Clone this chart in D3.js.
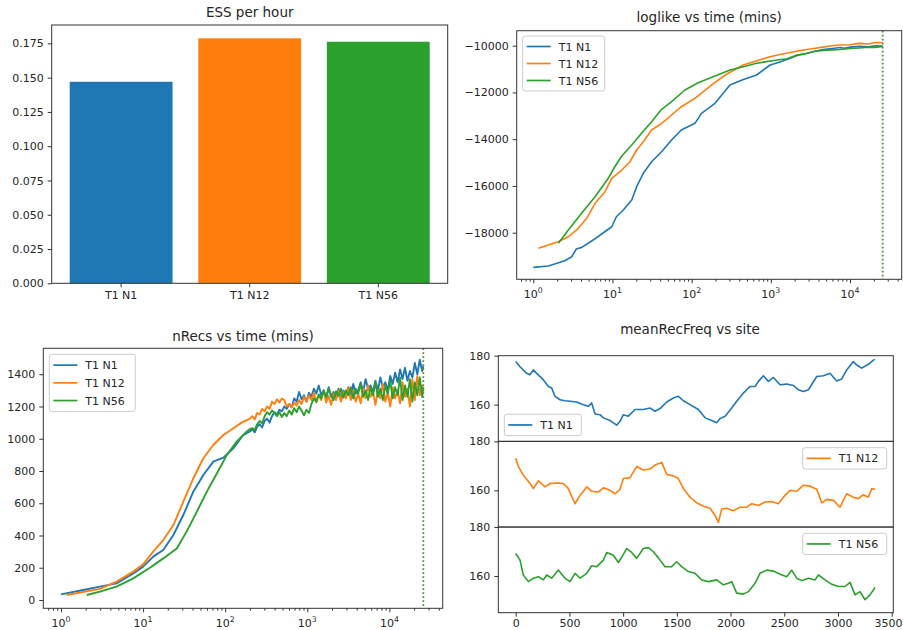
<!DOCTYPE html>
<html>
<head>
<meta charset="utf-8">
<script src="https://cdn.jsdelivr.net/npm/d3@7"></script>
<style>
body { margin: 0; background: #fff; }
text { font-family: "DejaVu Sans", sans-serif; fill: #262626; }
</style>
</head>
<body>
<div id="chart"></div>
<script>
var W = 903, H = 630;
var names = ["T1 N1", "T1 N12", "T1 N56"];
var colors = ["#1f77b4", "#ff7f0e", "#2ca02c"];

// ESS per hour
var essPerHour = [0.147, 0.1787, 0.1762];
var essTicks = [0, 0.025, 0.05, 0.075, 0.1, 0.125, 0.15, 0.175];

var endTime = 25900;

// loglike vs time
var llTimesN1 = [1, 1.55, 2.5, 3.05, 3.5, 4.1, 5.7, 7.3, 9.8, 11.2, 13.7, 17.5, 20.2, 24.5, 31.2, 41.7, 55.8, 74, 110, 133, 197, 305, 450, 660, 980, 1300, 1700, 2140, 2800, 3500, 4570, 6000, 7500, 8500, 10000, 13000, 17000, 21000, 25900];
var llN1 = [-19483, -19427, -19200, -19030, -18699, -18628, -18314, -18057, -17745, -17317, -17031, -16602, -16033, -15460, -14964, -14536, -14035, -13607, -13321, -12893, -12465, -11682, -11450, -11254, -10826, -10700, -10560, -10420, -10330, -10250, -10160, -10120, -10080, -10110, -10060, -10030, -10050, -10000, -10020];
var llTimesN12 = [1.16, 2.07, 2.77, 3.7, 4.72, 6.03, 8.04, 9.8, 13.1, 16.6, 20.2, 24.5, 31.2, 41.7, 55.8, 74, 110, 195, 282, 447, 700, 977, 1300, 1700, 2570, 3500, 4500, 6000, 7400, 10000, 13000, 17000, 21000, 25900];
var llN12 = [-18670, -18387, -18173, -17814, -17386, -16744, -16247, -15674, -15319, -14964, -14463, -14108, -13607, -13321, -12965, -12610, -12251, -11583, -11200, -10826, -10620, -10471, -10380, -10300, -10184, -10120, -10060, -10000, -9970, -9960, -9900, -9930, -9860, -9872];
var llTimesN56 = [2.07, 2.77, 4.07, 6.03, 8.85, 10.7, 13.1, 17.5, 23.3, 31.2, 41.7, 55.8, 82.2, 121, 197, 305, 450, 660, 1200, 1600, 2140, 2800, 3500, 4570, 6000, 7500, 10000, 13000, 17000, 21000, 25900];
var llN56 = [-18455, -17886, -17172, -16461, -15674, -15178, -14720, -14249, -13748, -13252, -12721, -12396, -11896, -11583, -11297, -11040, -10900, -10753, -10612, -10560, -10398, -10330, -10250, -10200, -10180, -10160, -10120, -10100, -10060, -10070, -10030];
var llTicks = [-18000, -16000, -14000, -12000, -10000];

// nRecs vs time
var nrLateTimes = [200, 214, 229, 245, 263, 282, 302, 324, 347, 372, 398, 427, 457, 490, 525, 562, 603, 646, 692, 741, 794, 851, 912, 977, 1047, 1122, 1202, 1288, 1380, 1479, 1585, 1698, 1820, 1950, 2089, 2239, 2399, 2570, 2754, 2951, 3162, 3388, 3631, 3890, 4169, 4467, 4786, 5129, 5495, 5888, 6310, 6761, 7244, 7762, 8318, 8913, 9550, 10233, 10965, 11749, 12589, 13490, 14454, 15488, 16596, 17783, 19055, 20417, 21878, 23442, 25119, 25900];
var nrTimesN1 = [1, 1.86, 2.98, 4.75, 7.6, 10, 13.3, 17.6, 23.4, 30.9, 40.9, 54.2, 71.6, 95, 126, 166];
var nrN1 = [35, 62, 83, 103, 165, 207, 269, 310, 403, 527, 672, 775, 858, 883, 941, 1023,
  1045, 1060, 1040, 1075, 1090, 1070, 1110, 1125, 1100, 1140, 1165, 1150, 1180, 1170, 1200, 1185, 1215, 1195, 1250, 1230,
  1290, 1245, 1270, 1230, 1285, 1260, 1310, 1280, 1330, 1270, 1300, 1245, 1320, 1260, 1290, 1250, 1310, 1240, 1300, 1270,
  1320, 1260, 1340, 1280, 1300, 1350, 1290, 1370, 1310, 1330, 1290, 1360, 1300, 1380, 1320, 1350, 1300, 1390, 1340, 1410,
  1350, 1430, 1370, 1440, 1360, 1420, 1380, 1470, 1400, 1490, 1420, 1450];
var nrTimesN12 = [1.17, 2.98, 4.75, 7.6, 10, 13.3, 17.6, 23.4, 30.9, 40.9, 54.2, 71.6, 95, 126, 158];
var nrN12 = [31, 69, 114, 176, 221, 300, 372, 465, 610, 755, 879, 961, 1023, 1065, 1100,
  1125, 1140, 1120, 1160, 1150, 1185, 1170, 1200, 1185, 1230, 1215, 1245, 1225, 1250, 1240, 1200, 1215, 1195, 1225, 1205,
  1240, 1215, 1260, 1230, 1270, 1240, 1285, 1225, 1270, 1240, 1300, 1225, 1265, 1210, 1280, 1240, 1300, 1230, 1290, 1250,
  1320, 1240, 1300, 1230, 1280, 1220, 1310, 1250, 1330, 1260, 1290, 1210, 1300, 1250, 1340, 1230, 1290, 1200, 1320, 1250,
  1300, 1220, 1350, 1260, 1310, 1200, 1370, 1240, 1390, 1270, 1330, 1300];
var nrTimesN56 = [2.06, 2.98, 4.75, 7.6, 12.1, 17.6, 25.7, 33.9, 45.2, 59.8, 79.4, 105, 138, 182];
var nrN56 = [31, 52, 83, 134, 200, 258, 320, 424, 548, 672, 786, 900, 982, 1044,
  1060, 1065, 1055, 1090, 1110, 1095, 1140, 1165, 1150, 1175, 1160, 1140, 1165, 1135, 1160, 1140, 1175, 1150, 1190, 1165,
  1200, 1175, 1145, 1180, 1160, 1215, 1250, 1230, 1275, 1250, 1300, 1260, 1310, 1270, 1240, 1295, 1265, 1310, 1255, 1300,
  1270, 1320, 1250, 1310, 1280, 1340, 1260, 1300, 1240, 1320, 1270, 1350, 1260, 1310, 1240, 1330, 1280, 1360, 1250, 1320,
  1270, 1380, 1240, 1330, 1260, 1370, 1230, 1350, 1270, 1380, 1260, 1320];
var nrTicks = [0, 200, 400, 600, 800, 1000, 1200, 1400];

// meanRecFreq vs site
var siteN1 = [0, 40, 102, 133, 164, 195, 258, 304, 335, 366, 413, 459, 506, 568, 630, 676, 707, 739, 785, 816, 878, 940, 971, 1002, 1049, 1111, 1188, 1251, 1297, 1344, 1406, 1468, 1514, 1561, 1623, 1700, 1763, 1825, 1871, 1902, 1949, 2011, 2057, 2119, 2181, 2228, 2259, 2306, 2352, 2399, 2461, 2523, 2585, 2631, 2678, 2725, 2802, 2864, 2926, 2988, 3035, 3081, 3143, 3174, 3221, 3283, 3330, 3345];
var freqN1 = [177.6, 175.5, 172.8, 172.2, 174.2, 172.8, 170.1, 167.4, 166.8, 163.4, 162.0, 161.6, 161.4, 161.1, 160.0, 159.3, 160.7, 156.2, 155.9, 154.6, 153.5, 151.6, 153.2, 155.9, 155.3, 158.0, 158.0, 158.6, 157.3, 158.4, 161.1, 162.7, 163.4, 161.6, 160.0, 158.0, 154.6, 153.5, 152.6, 154.3, 155.3, 158.6, 161.4, 164.7, 167.4, 167.4, 169.5, 171.8, 169.5, 171.1, 168.1, 168.4, 167.8, 166.1, 165.4, 166.1, 171.5, 171.8, 172.8, 169.7, 170.5, 174.2, 177.6, 176.2, 174.9, 176.5, 178.2, 178.5];
var siteN12 = [0, 25, 71, 133, 164, 211, 273, 320, 382, 444, 490, 552, 599, 661, 707, 770, 816, 878, 925, 971, 1002, 1064, 1126, 1188, 1251, 1297, 1359, 1406, 1468, 1514, 1561, 1623, 1685, 1747, 1809, 1856, 1887, 1918, 1964, 2026, 2088, 2150, 2197, 2259, 2321, 2383, 2445, 2492, 2554, 2616, 2678, 2740, 2802, 2849, 2895, 2957, 3019, 3081, 3143, 3190, 3236, 3283, 3314, 3345];
var freqN12 = [173.1, 169.7, 166.2, 162.8, 160.7, 163.9, 161.4, 162.8, 163.0, 162.8, 160.7, 154.5, 157.9, 161.4, 159.6, 159.3, 161.0, 160.0, 158.6, 160.4, 164.8, 165.2, 169.7, 168.3, 168.7, 170.3, 171.4, 166.5, 165.9, 164.8, 160.7, 157.2, 154.9, 153.5, 152.7, 149.7, 146.9, 152.4, 152.7, 151.7, 153.1, 153.1, 154.5, 153.8, 155.2, 155.4, 154.5, 157.2, 160.0, 159.6, 162.1, 161.7, 160.4, 154.9, 156.3, 155.9, 153.1, 158.6, 157.2, 156.6, 158.2, 157.2, 160.7, 160.4];
var siteN56 = [0, 40, 71, 118, 164, 211, 258, 289, 335, 397, 459, 506, 552, 599, 661, 707, 754, 816, 847, 909, 956, 1002, 1033, 1080, 1126, 1188, 1235, 1282, 1328, 1390, 1452, 1499, 1545, 1607, 1669, 1731, 1794, 1871, 1933, 1980, 2011, 2057, 2119, 2166, 2228, 2274, 2337, 2399, 2461, 2523, 2569, 2616, 2662, 2725, 2787, 2818, 2880, 2942, 3004, 3066, 3112, 3159, 3205, 3252, 3298, 3345];
var freqN56 = [169.2, 166.5, 160.4, 157.7, 159.1, 159.7, 158.4, 160.4, 159.1, 162.4, 159.1, 157.7, 161.1, 159.1, 161.1, 164.2, 163.8, 166.5, 169.6, 168.5, 165.5, 168.8, 171.2, 169.6, 167.2, 171.2, 171.6, 169.9, 167.4, 163.8, 163.8, 165.8, 163.8, 161.8, 161.1, 158.4, 157.7, 158.4, 156.4, 157.0, 157.7, 153.0, 152.6, 153.6, 157.0, 161.1, 162.4, 162.0, 160.7, 159.7, 162.4, 159.1, 158.1, 159.1, 158.4, 160.4, 158.4, 156.6, 155.7, 155.7, 157.4, 152.3, 153.6, 150.3, 152.3, 155.3];
var freqTicks = [160, 180];
var siteTicks = [0, 500, 1000, 1500, 2000, 2500, 3000, 3500];

var svg = d3.select("#chart").append("svg")
  .attr("width", W).attr("height", H)
  .style("background-color", "#fff");

var tickFont = "11px", titleFont = "13.5px";

function frame(b) {
  svg.append("rect")
    .attr("x", b.left).attr("y", b.top)
    .attr("width", b.right - b.left).attr("height", b.bottom - b.top)
    .attr("fill", "none").attr("stroke", "#333").attr("stroke-width", 1);
}

function title(txt, x, y) {
  svg.append("text").attr("x", x).attr("y", y)
    .attr("text-anchor", "middle").style("font-size", titleFont).text(txt);
}

function styleAxis(g) {
  g.select(".domain").remove();
  g.selectAll(".tick line").attr("stroke", "#333");
  g.selectAll(".tick text").attr("fill", "#262626").style("font-size", tickFont)
    .style("font-family", "DejaVu Sans, sans-serif");
}

function yAxis(y, b, ticks, fmt) {
  var g = svg.append("g").attr("transform", "translate(" + b.left + ",0)")
    .call(d3.axisLeft(y).tickValues(ticks).tickSize(4).tickPadding(4).tickFormat(fmt));
  styleAxis(g);
}

function logXAxis(x, b) {
  var all = x.ticks();
  var majors = all.filter(function(t) { return Math.abs(Math.log10(t) - Math.round(Math.log10(t))) < 1e-9; });
  var minors = all.filter(function(t) { return majors.indexOf(t) < 0; });
  var gm = svg.append("g").attr("transform", "translate(0," + b.bottom + ")")
    .call(d3.axisBottom(x).tickValues(minors).tickSize(2.3).tickFormat(""));
  styleAxis(gm);
  var gM = svg.append("g").attr("transform", "translate(0," + b.bottom + ")")
    .call(d3.axisBottom(x).tickValues(majors).tickSize(4).tickFormat(""));
  styleAxis(gM);
  svg.append("g").selectAll("text").data(majors).join("text")
    .attr("x", function(d) { return x(d); })
    .attr("y", b.bottom + 19)
    .attr("text-anchor", "middle")
    .style("font-size", tickFont)
    .each(function(d) {
      var t = d3.select(this);
      t.append("tspan").text("10");
      t.append("tspan").attr("dy", -5).style("font-size", "7.8px").text(Math.round(Math.log10(d)));
    });
}

function legend(x0, y0, w, spacing, items) {
  var g = svg.append("g").attr("transform", "translate(" + x0 + "," + y0 + ")");
  g.append("rect").attr("width", w).attr("height", spacing * items.length + 4)
    .attr("rx", 2.5).attr("fill", "#fff").attr("fill-opacity", 0.8)
    .attr("stroke", "#cccccc").attr("stroke-width", 1);
  var row = g.selectAll("g").data(items).join("g")
    .attr("transform", function(d, i) { return "translate(0," + (spacing * i + spacing / 2 + 2) + ")"; });
  row.append("line").attr("x1", 4).attr("x2", 28)
    .attr("stroke", function(d) { return d.color; }).attr("stroke-width", 1.7);
  row.append("text").attr("x", 36).attr("y", 4).style("font-size", tickFont)
    .text(function(d) { return d.name; });
}

function drawLines(series, x, y, width) {
  var line = d3.line().x(function(d) { return x(d[0]); }).y(function(d) { return y(d[1]); });
  svg.append("g").selectAll("path").data(series).join("path")
    .attr("d", function(s) { return line(d3.zip(s.t, s.v)); })
    .attr("fill", "none")
    .attr("stroke", function(s) { return s.color; })
    .attr("stroke-width", width || 1.6)
    .attr("stroke-linejoin", "round");
}

function endLine(x, b) {
  svg.append("line")
    .attr("x1", x(endTime)).attr("x2", x(endTime))
    .attr("y1", b.top).attr("y2", b.bottom)
    .attr("stroke", "#5f8a3a").attr("stroke-width", 1.8)
    .attr("stroke-dasharray", "1.8,2.2");
}

// ---- ESS per hour (bar)
var bA = {left: 51.7, right: 447.7, top: 25, bottom: 283.3};
var xA = d3.scaleBand().domain(names).range([bA.left, bA.right]).paddingInner(0.2).paddingOuter(0.14);
var yA = d3.scaleLinear().domain([0, 0.1884]).range([bA.bottom, bA.top]);
svg.append("g").selectAll("rect").data(essPerHour).join("rect")
  .attr("x", function(d, i) { return xA(names[i]); })
  .attr("width", xA.bandwidth())
  .attr("y", function(d) { return yA(d); })
  .attr("height", function(d) { return yA(0) - yA(d); })
  .attr("fill", function(d, i) { return colors[i]; });
frame(bA);
yAxis(yA, bA, essTicks, d3.format(".3f"));
var gxA = svg.append("g").attr("transform", "translate(0," + bA.bottom + ")")
  .call(d3.axisBottom(xA).tickSize(4).tickPadding(4));
styleAxis(gxA);
title("ESS per hour", (bA.left + bA.right) / 2, 17);

// ---- loglike vs time
var bB = {left: 516.7, right: 901.7, top: 30.7, bottom: 279.3};
var xB = d3.scaleLog().domain([0.617, 45000]).range([bB.left, bB.right]);
var yB = d3.scaleLinear().domain([-19994, -9358]).range([bB.bottom, bB.top]);
drawLines([
  {t: llTimesN1, v: llN1, color: colors[0]},
  {t: llTimesN12, v: llN12, color: colors[1]},
  {t: llTimesN56, v: llN56, color: colors[2]}
], xB, yB);
endLine(xB, bB);
frame(bB);
yAxis(yB, bB, llTicks, d3.format("d"));
logXAxis(xB, bB);
legend(522.7, 36, 82, 17, names.map(function(n, i) { return {name: n, color: colors[i]}; }));
title("loglike vs time (mins)", (bB.left + bB.right) / 2, 22);

// ---- nRecs vs time
var bC = {left: 43.3, right: 442.7, top: 348.3, bottom: 608.3};
var xC = d3.scaleLog().domain([0.609, 44600]).range([bC.left, bC.right]);
var yC = d3.scaleLinear().domain([-51.5, 1561]).range([bC.bottom, bC.top]);
drawLines([
  {t: nrTimesN1.concat(nrLateTimes), v: nrN1, color: colors[0]},
  {t: nrTimesN12.concat(nrLateTimes), v: nrN12, color: colors[1]},
  {t: nrTimesN56.concat(nrLateTimes), v: nrN56, color: colors[2]}
], xC, yC, 1.9);
endLine(xC, bC);
frame(bC);
yAxis(yC, bC, nrTicks, d3.format("d"));
logXAxis(xC, bC);
legend(49.3, 354.3, 86, 17.7, names.map(function(n, i) { return {name: n, color: colors[i]}; }));
title("nRecs vs time (mins)", (bC.left + bC.right) / 2, 340.5);

// ---- meanRecFreq vs site (three stacked panels)
var dLeft = 498.3, dRight = 893.3, dTop = 355.7, dBottom = 612.7;
var xD = d3.scaleLinear().domain([-162, 3515]).range([dLeft, dRight]);
var panelH = (dBottom - dTop) / 3;
var freqSeries = [
  {t: siteN1, v: freqN1, color: colors[0]},
  {t: siteN12, v: freqN12, color: colors[1]},
  {t: siteN56, v: freqN56, color: colors[2]}
];
var legendPos = [[504.3, 414.3], [802.7, 447.7], [802.7, 533.3]];
freqSeries.forEach(function(s, i) {
  var b = {left: dLeft, right: dRight, top: dTop + panelH * i, bottom: dTop + panelH * (i + 1)};
  var y = d3.scaleLinear().domain([145, 180]).range([b.bottom, b.top]);
  drawLines([s], xD, y);
  frame(b);
  yAxis(y, b, freqTicks, d3.format("d"));
  legend(legendPos[i][0], legendPos[i][1], i === 0 ? 77 : 84, 17.3, [{name: names[i], color: s.color}]);
});
var gxD = svg.append("g").attr("transform", "translate(0," + dBottom + ")")
  .call(d3.axisBottom(xD).tickValues(siteTicks).tickSize(4).tickPadding(2.5).tickFormat(d3.format("d")));
styleAxis(gxD);
// keep the last label inside the page edge
gxD.selectAll(".tick text").filter(function(d) { return xD(d) + 15 > W; })
  .attr("text-anchor", "end").attr("x", function(d) { return W - 1 - xD(d); });
title("meanRecFreq vs site", 690, 333.5);
</script>
</body>
</html>
